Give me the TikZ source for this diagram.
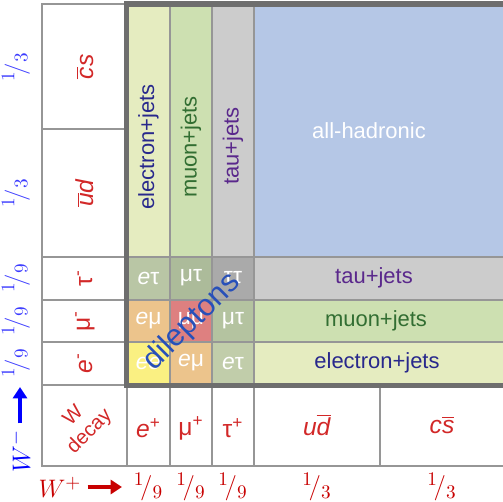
\documentclass[tikz,border=0pt]{standalone}
\usepackage[no-math]{fontspec}
\setmainfont{Liberation Sans}
\usetikzlibrary{arrows.meta}
\definecolor{elecfill}{RGB}{229,236,192}
\definecolor{muonfill}{RGB}{205,224,177}
\definecolor{taufill}{RGB}{204,204,204}
\definecolor{hadfill}{RGB}{181,199,230}
\definecolor{etfillA}{RGB}{185,198,165}
\definecolor{mtfillA}{RGB}{172,187,154}
\definecolor{ttfill}{RGB}{170,170,170}
\definecolor{emfill}{RGB}{236,196,140}
\definecolor{mmfill}{RGB}{222,128,128}
\definecolor{mtfillB}{RGB}{180,195,160}
\definecolor{eefill}{RGB}{250,240,130}
\definecolor{etfillB}{RGB}{193,205,170}
\definecolor{cellgray}{RGB}{150,150,150}
\definecolor{boxgray}{RGB}{110,110,110}
\definecolor{eleclbl}{RGB}{40,40,140}
\definecolor{muonlbl}{RGB}{50,110,50}
\definecolor{taulbl}{RGB}{90,40,140}
\definecolor{lblred}{RGB}{210,40,40}
\definecolor{fracblue}{RGB}{60,60,255}
\definecolor{wred}{RGB}{200,0,0}
\definecolor{dilblue}{RGB}{40,80,185}
\newcommand{\onein}[1]{$^{1}\!/_{#1}$}
\newcommand{\qbar}[1]{$\overline{\hbox{\textit{#1}}}$}

\begin{document}
\begin{tikzpicture}[x=0.02cm,y=-0.02cm,
  cellline/.style={draw=cellgray,line width=1.6pt},
  boxline/.style={draw=boxgray,line width=2.9pt},
  jets/.style={font=\fontsize{12.5}{15}\selectfont},
  celltxt/.style={text=white,inner sep=0.5pt,font=\fontsize{13}{15}\selectfont},
  quark/.style={text=lblred,font=\fontsize{14}{16}\selectfont},
  frac/.style={inner sep=0.5pt,font=\fontsize{15.5}{17}\selectfont},
  warrow/.style={line width=2.6pt,-{Triangle[length=6.5pt,width=8pt]}}]
\useasboundingbox (0,0) rectangle (503,502);
\clip (0,0) rectangle (503,502);
\fill[hadfill] (254,4) rectangle (510,257);
\fill[elecfill] (127,4) rectangle (170,257) (254,342) rectangle (510,385);
\fill[muonfill] (170,4) rectangle (212,257) (254,300) rectangle (510,342);
\fill[taufill] (212,4) rectangle (254,257) (254,257) rectangle (510,300);
\foreach \xa/\ya/\xb/\yb/\c in {127/257/170/300/etfillA, 170/257/212/300/mtfillA,
    212/257/254/300/ttfill, 127/300/170/342/emfill, 170/300/212/342/mmfill,
    212/300/254/342/mtfillB, 127/342/170/385/eefill, 170/342/212/385/emfill,
    212/342/254/385/etfillB}
  \fill[\c] (\xa,\ya) rectangle (\xb,\yb);
\draw[cellline] (127,4) -- (42,4) -- (42,466) -- (510,466);
\foreach \y in {129,385} \draw[cellline] (42,\y) -- (127,\y);
\foreach \y in {257,300,342} \draw[cellline] (42,\y) -- (510,\y);
\foreach \x in {170,212,254} \draw[cellline] (\x,4) -- (\x,466);
\foreach \x in {127,380} \draw[cellline] (\x,385) -- (\x,466);
\draw[boxline] (126.5,4) rectangle (515,385.5);

\node[jets,text=eleclbl,rotate=90] (ejcol) at (148.5,147) {electron+jets};
\node[jets,text=muonlbl,rotate=90] (mjcol) at (191,147) {muon+jets};
\node[jets,text=taulbl,rotate=90] (tjcol) at (233,146) {tau+jets};
\node[jets,text=white] (hadr) at (369,131) {all-hadronic};
\node[jets,text=taulbl] (tjrow) at (374,278) {tau+jets};
\node[jets,text=muonlbl] (mjrow) at (376,321) {muon+jets};
\node[jets,text=eleclbl] (ejrow) at (377,363) {electron+jets};

\foreach \n/\x/\y/\t in {ca/148.5/278/\textit{e}τ, cb/191/278/μτ, cc/233/278/ττ,
    cd/148.5/321/\textit{e}μ, ce/191/321/μμ, cf/233/321/μτ,
    cg/148.5/363/\textit{ee}, ch/191/363/\textit{e}μ, ci/233/363/\textit{e}τ}
  \node[celltxt] (\n) at (\x,\y) {\t};
\node[text=dilblue,font=\fontsize{17.5}{20}\selectfont,rotate=45] (dilep) at (192,322) {dileptons};

\node[quark,rotate=90] (wmcs) at (85,67) {\qbar{c}\textit{s}};
\node[quark,rotate=90] (wmud) at (85,193) {\qbar{u}\textit{d}};
\node[quark,rotate=90] (wmtau) at (85,278) {τ\textsuperscript{-}};
\node[quark,rotate=90] (wmmu) at (85,321) {μ\textsuperscript{-}};
\node[quark,rotate=90] (wme) at (85,363) {\textit{e}\textsuperscript{-}};
\node[quark] (wpe) at (148.5,428) {\textit{e}\textsuperscript{+}};
\node[quark] (wpmu) at (191,428) {μ\textsuperscript{+}};
\node[quark] (wptau) at (233,428) {τ\textsuperscript{+}};
\node[quark] (wpud) at (317,425) {\textit{u}\qbar{d}};
\node[quark] (wpcs) at (442,425) {\textit{c}\qbar{s}};
\node[text=lblred,font=\fontsize{11.5}{13}\selectfont,align=center,rotate=45] (wdecay) at (82,424) {W\\decay};

\foreach \n/\y/\d in {fa/67/3, fb/193/3, fc/278/9, fd/321/9, fe/363/9}
  \node[frac,text=fracblue,rotate=90] (\n) at (16,\y) {\onein{\d}};
\foreach \n/\x/\d in {ga/148.5/9, gb/191/9, gc/233/9, gd/317/3, ge/442/3}
  \node[frac,text=wred] (\n) at (\x,487) {\onein{\d}};

\node[text=blue,font=\fontsize{15}{17}\selectfont,rotate=90] (wminus) at (20,451) {$W^{-}$};
\coordinate (wmtip) at (20,387);
\draw[warrow,blue] (wminus.east) -- (wmtip);
\node[text=wred,font=\fontsize{15}{17}\selectfont] (wplus) at (60,487) {$W^{+}$};
\coordinate (wptip) at (122,487);
\draw[warrow,wred] (wplus.east) -- (wptip);
\end{tikzpicture}
\end{document}
